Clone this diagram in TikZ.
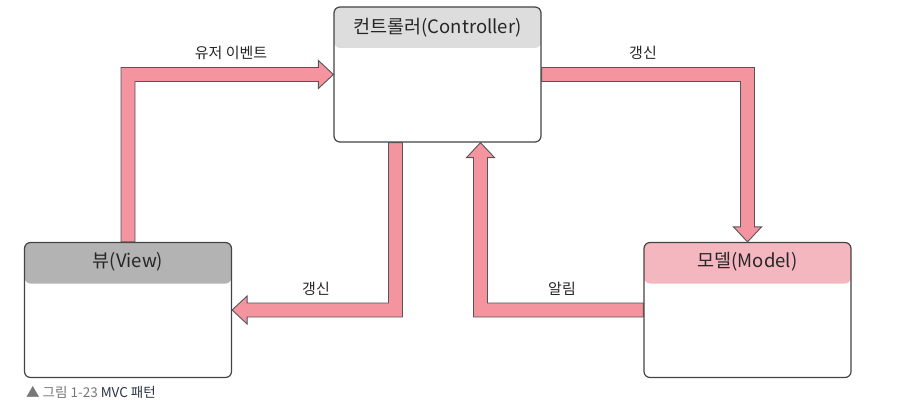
\documentclass[tikz,border=0pt]{standalone}
\usepackage{fontspec}
\setmainfont{Noto Sans CJK KR}
\usetikzlibrary{positioning,calc}
\definecolor{arrowpink}{HTML}{F4949E}
\definecolor{arrowline}{HTML}{555555}
\definecolor{boxline}{HTML}{444444}
\definecolor{ctrlhead}{HTML}{DDDDDD}
\definecolor{viewhead}{HTML}{B3B3B3}
\definecolor{modelhead}{HTML}{F5B7BF}
\definecolor{capgray}{HTML}{777777}
\definecolor{capdark}{HTML}{2B3443}
\tikzset{
  mvcbox/.style={draw=boxline,line width=1.2pt,rounded corners=6pt,fill=white,
                 minimum width=207pt,minimum height=135pt,inner sep=0pt},
  boxhead/.style={path picture={\fill[#1] (path picture bounding box.north west)
                 rectangle ([yshift=-41pt]path picture bounding box.north east);}},
  boxtitle/.style={font=\fontsize{18.5}{20}\selectfont,text=black!85,inner sep=0pt},
  fatarrow/.style={fill=arrowpink,draw=arrowline,line width=0.9pt,line join=miter},
  flowlabel/.style={font=\fontsize{15}{17}\selectfont,text=black!85,inner sep=0pt},
  caption/.style={font=\fontsize{13.5}{15}\selectfont,inner sep=0pt,anchor=west},
}

\begin{document}
\begin{tikzpicture}[x=1pt,y=-1pt]
  \useasboundingbox (0,0) rectangle (912,409);
  % the three parts
  \node[mvcbox,boxhead=ctrlhead]  (ctrl)  at (437.5,74.5) {};
  \node[mvcbox,boxhead=viewhead]  (view)  at (128,310)    {};
  \node[mvcbox,boxhead=modelhead] (model) at (747.5,310)  {};
  \node[boxtitle] (ctrltitle)  at ([yshift=-21pt]ctrl.north)  {컨트롤러(Controller)};
  \node[boxtitle] (viewtitle)  at ([yshift=-20pt]view.north)  {뷰(View)};
  \node[boxtitle] (modeltitle) at ([yshift=-20pt]model.north) {모델(Model)};

  % fat arrows between them
  \coordinate (ctrlout) at ($(ctrl.south)+(-42,0)$);
  \coordinate (ctrlin)  at ($(ctrl.south)+(43,0)$);
  \draw[fatarrow] ($(view.north)+(-7,0)$) |- ($(ctrl.west)+(-15,-7)$) -- ++(0,-7)
    -- (ctrl.west) -- ($(ctrl.west)+(-15,14)$) -- ++(0,-7) -| ($(view.north)+(7,0)$) -- cycle;
  \draw[fatarrow] ($(ctrl.east)+(0,-7)$) -| ($(model.north)+(7,-15)$) -- ++(7,0)
    -- (model.north) -- ($(model.north)+(-14,-15)$) -- ++(7,0) |- ($(ctrl.east)+(0,7)$) -- cycle;
  \draw[fatarrow] ($(ctrlout)+(7,0)$) |- ($(view.east)+(15,7)$) -- ++(0,7)
    -- (view.east) -- ($(view.east)+(15,-14)$) -- ++(0,7) -| ($(ctrlout)+(-7,0)$) -- cycle;
  \draw[fatarrow] ($(model.west)+(0,7)$) -| ($(ctrlin)+(-7,15)$) -- ++(-7,0)
    -- (ctrlin) -- ($(ctrlin)+(14,15)$) -- ++(-7,0) |- ($(model.west)+(0,-7)$) -- cycle;

  % labels
  \node[flowlabel] (userevent) at (231,53)  {유저 이벤트};
  \node[flowlabel] (update1)   at (643,53)  {갱신};
  \node[flowlabel] (update2)   at (316,289) {갱신};
  \node[flowlabel] (notify)    at (562,289) {알림};

  \node[caption] (figcap) at (26,392)
    {\textcolor{capgray}{▲ 그림 1-23} \textcolor{capdark}{MVC 패턴}};
\end{tikzpicture}
\end{document}
